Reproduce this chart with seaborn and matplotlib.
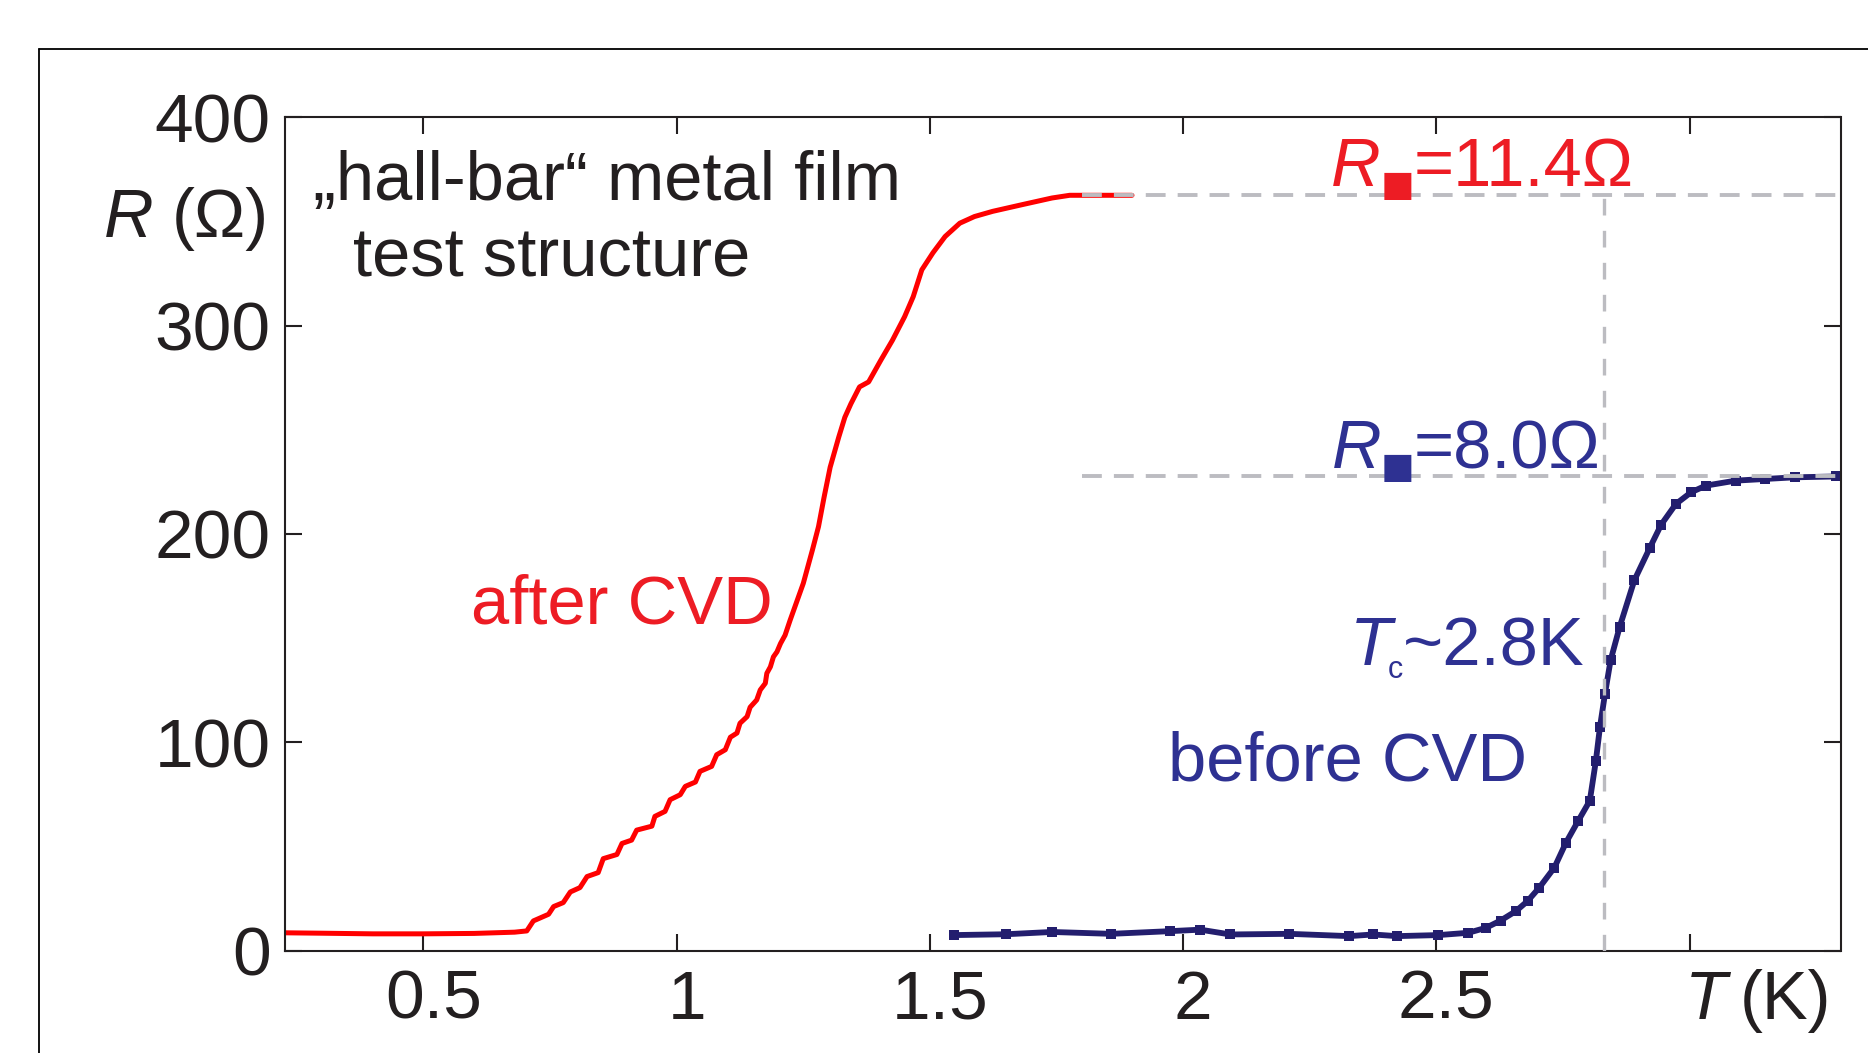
import numpy as np
import pandas as pd
import matplotlib
matplotlib.use("Agg")
import matplotlib.pyplot as plt
import matplotlib.transforms as mtransforms
import seaborn as sns
from matplotlib.lines import Line2D
from matplotlib.textpath import TextPath
from matplotlib.font_manager import FontProperties

# ---------------- data ----------------
after_T = [0.226, 0.30, 0.40, 0.50, 0.60, 0.68, 0.704, 0.717, 0.747, 0.757,
           0.776, 0.790, 0.809, 0.823, 0.845, 0.855, 0.882, 0.892, 0.911, 0.921,
           0.951, 0.957, 0.977, 0.987, 1.007, 1.017, 1.037, 1.046, 1.069, 1.079,
           1.096, 1.106, 1.119, 1.125, 1.139, 1.145, 1.158, 1.165, 1.175, 1.178,
           1.185, 1.191, 1.198, 1.205, 1.214, 1.224, 1.250, 1.268, 1.280, 1.291,
           1.303, 1.320, 1.332, 1.344, 1.361, 1.379, 1.403, 1.426, 1.450, 1.467,
           1.484, 1.506, 1.530, 1.559, 1.588, 1.624, 1.682, 1.741, 1.776, 1.899]
after_R = [8.5, 8.3, 8.0, 8.0, 8.2, 8.8, 9.4, 14.2, 17.4, 21.1,
           23.0, 28.1, 30.2, 35.5, 37.4, 44.1, 46.1, 51.4, 53.0, 57.8,
           59.7, 64.4, 66.8, 72.4, 74.8, 78.8, 80.9, 86.0, 88.4, 94.0,
           96.4, 102.4, 104.4, 109.1, 112.3, 116.8, 120.3, 125.1, 128.3, 133.1,
           136.2, 141.0, 143.4, 147.4, 151.4, 158.6, 176.3, 192.3, 203.5, 217.6,
           232.0, 246.5, 256.0, 262.5, 270.6, 273.0, 283.4, 293.0, 304.3, 313.9,
           326.8, 335.0, 342.8, 349.2, 352.4, 354.9, 358.1, 361.3, 362.6, 362.6]

before_T = [1.547, 1.65, 1.741, 1.858, 1.975, 2.034, 2.093, 2.210, 2.328, 2.375,
            2.422, 2.504, 2.563, 2.598, 2.627, 2.657, 2.680, 2.703, 2.733, 2.756,
            2.780, 2.803, 2.815, 2.823, 2.833, 2.844, 2.862, 2.891, 2.921, 2.944,
            2.973, 3.003, 3.032, 3.091, 3.149, 3.208, 3.290]
before_R = [7.4, 7.8, 8.9, 8.0, 9.3, 10.0, 7.7, 8.0, 6.9, 7.7,
            6.9, 7.4, 8.5, 10.9, 14.4, 18.9, 23.7, 30.1, 39.8, 51.8,
            62.2, 71.9, 91.1, 107.2, 123.3, 139.3, 155.4, 177.8, 193.1, 204.5,
            214.4, 220.0, 223.2, 225.6, 226.4, 227.2, 227.6]

R_after_plateau = 362.6
R_before_plateau = 227.6
Tc = 2.832
guide_start_T = 1.80

x_ticks = [0.5, 1, 1.5, 2, 2.5, 3]
x_ticklabels = ["0.5", "1", "1.5", "2", "2.5", ""]
y_ticks = [0, 100, 200, 300, 400]
y_ticklabels = ["0", "100", "200", "300", "400"]

# ---------------- style ----------------
sns.set_theme(style="ticks")
plt.rcParams["font.family"] = ["Liberation Sans", "DejaVu Sans"]
plt.rcParams["axes.linewidth"] = 1.5

W, H = 1868, 1053
fig = plt.figure(figsize=(W / 100, H / 100), dpi=100)
fig.patch.set_facecolor("white")
ax = fig.add_axes([284.7 / W, 1 - 950.5 / H, 1555.8 / W, 833.1 / H])
ax.set_facecolor("white")

DARK = "#231F20"
RED_LINE = "#FF0000"
RED_TXT = "#ED1C24"
BLUE_LINE = "#231E6E"
BLUE_TXT = "#2E3192"
GREY = "#BCBCC1"

df_a = pd.DataFrame({"T": after_T, "R": after_R})
df_b = pd.DataFrame({"T": before_T, "R": before_R})

sns.lineplot(data=df_a, x="T", y="R", ax=ax, color=RED_LINE, lw=3.6,
             sort=False, estimator=None, zorder=2)
sns.lineplot(data=df_b, x="T", y="R", ax=ax, color=BLUE_LINE, lw=4.2,
             sort=False, estimator=None, marker="s", markersize=7,
             markeredgewidth=0, zorder=2)

# guide lines
ax.plot([guide_start_T, 3.4], [R_after_plateau, R_after_plateau], color=GREY,
        lw=2.8, dashes=(5.1, 3.1), zorder=3)
ax.plot([guide_start_T, 3.4], [R_before_plateau, R_before_plateau], color=GREY,
        lw=2.8, dashes=(5.1, 3.1), zorder=3)
ax.plot([Tc, Tc], [0, R_after_plateau], color=GREY, lw=2.4, dashes=(5.0, 4.6),
        zorder=3)

ax.set_xlim(0.226, 3.298)
ax.set_ylim(0.4, 399)
ax.set_xticks(x_ticks)
ax.set_xticklabels(x_ticklabels)
ax.set_yticks(y_ticks)
ax.set_yticklabels(y_ticklabels)
ax.set_xlabel("")
ax.set_ylabel("")
ax.tick_params(axis="both", direction="in", length=12, width=1.5, color=DARK,
               labelsize=50, labelcolor=DARK, top=True, right=True)
ax.tick_params(axis="x", pad=13)
ax.tick_params(axis="y", pad=10)
shift = mtransforms.ScaledTranslation(0.10, 0, fig.dpi_scale_trans)
for lab in ax.get_xticklabels():
    lab.set_transform(lab.get_transform() + shift)
for sp in ax.spines.values():
    sp.set_visible(True)
    sp.set_color(DARK)
    sp.set_linewidth(1.5)

# outer frame
fig.add_artist(Line2D([38.7 / W, 1.01], [1 - 49.3 / H, 1 - 49.3 / H],
                      transform=fig.transFigure, color="black", lw=1.3))
fig.add_artist(Line2D([38.7 / W, 38.7 / W], [1 - 49.3 / H, -0.01],
                      transform=fig.transFigure, color="black", lw=1.3))

FS = 49.5


def ftext(px, py, s, **kw):
    kw.setdefault("va", "baseline")
    kw.setdefault("fontsize", FS)
    return fig.text(px / W, 1 - py / H, s, **kw)


# axis labels
ftext(104, 236.6, "R", style="italic", color=DARK)
ftext(172, 236.6, "(Ω)", color=DARK)
ftext(1685, 1018.6, "T", style="italic", color=DARK)
ftext(1740, 1018.6, "(K)", color=DARK)

# annotations
ftext(313, 200.3, "„hall-bar“ metal film", color=DARK)
ftext(353, 276.8, "test structure", color=DARK)
ftext(471, 623.3, "after CVD", color=RED_TXT)
ftext(1168, 780.4, "before CVD", color=BLUE_TXT)
ftext(1350, 665.3, "T", style="italic", color=BLUE_TXT)
ftext(1388, 677.7, "c", color=BLUE_TXT, fontsize=22)
ftext(1403, 665.3, "~2.8K", color=BLUE_TXT)

# R_square labels
fam = ["Liberation Sans", "DejaVu Sans"]
tp = TextPath((0, 0), "■", size=100, prop=FontProperties(family=fam))
ext = tp.get_extents()
sq_px = 27.0
em_px = sq_px / (ext.height / 100.0)
sq_fs = em_px * 72 / 100.0
x0_px = ext.x0 / 100.0 * em_px
y0_px = ext.y0 / 100.0 * em_px


def square(left, bottom, color):
    ftext(left - x0_px, bottom + y0_px, "■", color=color, fontsize=sq_fs,
          family=fam)


ftext(1331, 185.6, "R", style="italic", color=RED_TXT)
square(1383.7, 200.3, RED_TXT)
ftext(1414, 185.6, "=11.4Ω", color=RED_TXT)

ftext(1332, 468.1, "R", style="italic", color=BLUE_TXT)
square(1384.0, 482.2, BLUE_TXT)
ftext(1414, 468.1, "=8.0Ω", color=BLUE_TXT)

fig.savefig("out.png", dpi=100, facecolor="white")
